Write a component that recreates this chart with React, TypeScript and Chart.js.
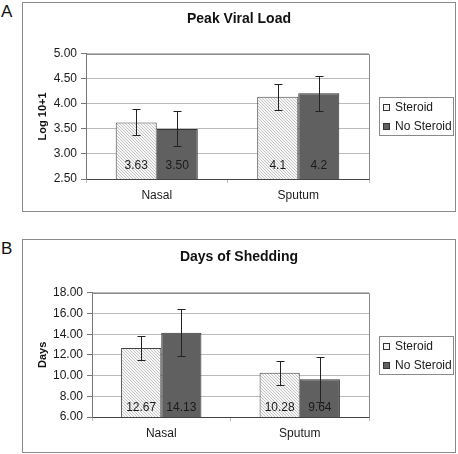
import React, { useEffect, useRef } from "react";
import { Chart, registerables } from "chart.js";

Chart.register(...registerables);

const FONT = "'Liberation Sans', Arial, Helvetica, sans-serif";

const categories = ["Nasal", "Sputum"];
const seriesNames = ["Steroid", "No Steroid"];

// Panel A: Peak Viral Load
const viralSteroid = [3.63, 4.14];
const viralNoSteroid = [3.5, 4.21];
const viralSteroidErr = [0.26, 0.255];
const viralNoSteroidErr = [0.35, 0.355];
const viralSteroidLabels = ["3.63", "4.1"];
const viralNoSteroidLabels = ["3.50", "4.2"];
const viralAxis = [2.5, 5.0, 0.5]; // min, max, step

// Panel B: Days of Shedding
const shedSteroid = [12.67, 10.28];
const shedNoSteroid = [14.13, 9.64];
const shedSteroidErr = [1.2, 1.17];
const shedNoSteroidErr = [2.27, 2.2];
const shedSteroidLabels = ["12.67", "10.28"];
const shedNoSteroidLabels = ["14.13", "9.64"];
const shedAxis = [6, 18, 2];

function makeHatch(): CanvasPattern | string {
  const n = 3;
  const c = document.createElement("canvas");
  c.width = n;
  c.height = n;
  const g = c.getContext("2d");
  if (!g) return "#eeeeee";
  const img = g.createImageData(n, n);
  for (let y = 0; y < n; y++) {
    for (let x = 0; x < n; x++) {
      const i = (y * n + x) * 4;
      const on = (x - y + 3 * n) % n === 0;
      const v = on ? 196 : 247;
      img.data[i] = v;
      img.data[i + 1] = v;
      img.data[i + 2] = v;
      img.data[i + 3] = 255;
    }
  }
  g.putImageData(img, 0, 0);
  return g.createPattern(c, "repeat") || "#eeeeee";
}

type PanelProps = {
  letter: string;
  top: number;
  height: number;
  title: string;
  yTitle: string;
  axis: number[];
  s1: number[];
  s2: number[];
  e1: number[];
  e2: number[];
  l1: string[];
  l2: string[];
  yWidth: number;
  xHeight: number;
  titlePadTop: number;
  titlePadBottom: number;
  labelOffset: number;
};

function Panel(p: PanelProps) {
  const ref = useRef<HTMLCanvasElement | null>(null);
  useEffect(() => {
    if (!ref.current) return;
    const hatch = makeHatch();
    const errs = [p.e1, p.e2];
    const lbls = [p.l1, p.l2];

    const framePlugin = {
      id: "frame",
      beforeDatasetsDraw(chart: any) {
        const { ctx, chartArea: a } = chart;
        ctx.save();
        ctx.strokeStyle = "#8a8a8a";
        ctx.lineWidth = 1;
        ctx.beginPath();
        ctx.moveTo(Math.round(a.left) + 0.5, Math.round(a.top) + 0.5);
        ctx.lineTo(Math.round(a.right) + 0.5, Math.round(a.top) + 0.5);
        ctx.lineTo(Math.round(a.right) + 0.5, Math.round(a.bottom) + 0.5);
        ctx.stroke();
        ctx.restore();
      },
    };

    const extrasPlugin = {
      id: "extras",
      afterDatasetsDraw(chart: any) {
        const { ctx, chartArea: a } = chart;
        const ys = chart.scales.y;
        ctx.save();
        // data labels
        ctx.fillStyle = "#1a1a1a";
        ctx.font = `12px ${FONT}`;
        ctx.textAlign = "center";
        ctx.textBaseline = "middle";
        chart.data.datasets.forEach((ds: any, di: number) => {
          const meta = chart.getDatasetMeta(di);
          meta.data.forEach((el: any, i: number) => {
            ctx.fillText(lbls[di][i], el.x, a.bottom - p.labelOffset);
          });
        });
        // error bars
        ctx.strokeStyle = "#222";
        ctx.lineWidth = 1;
        chart.data.datasets.forEach((ds: any, di: number) => {
          const meta = chart.getDatasetMeta(di);
          meta.data.forEach((el: any, i: number) => {
            const v = ds.data[i];
            const e = errs[di][i];
            const x = Math.round(el.x) + 0.5;
            const yt = Math.round(ys.getPixelForValue(v + e)) + 0.5;
            const yb = Math.round(ys.getPixelForValue(v - e)) + 0.5;
            ctx.beginPath();
            ctx.moveTo(x, yt);
            ctx.lineTo(x, yb);
            ctx.moveTo(x - 4, yt);
            ctx.lineTo(x + 4, yt);
            ctx.moveTo(x - 4, yb);
            ctx.lineTo(x + 4, yb);
            ctx.stroke();
          });
        });
        ctx.restore();
      },
      afterDraw(chart: any) {
        const { ctx, chartArea: a } = chart;
        const bw = 74;
        const bh = 38;
        const left = Math.round(a.right) + 10;
        const top = Math.round((a.top + a.bottom) / 2 - bh / 2);
        ctx.save();
        ctx.fillStyle = "#ffffff";
        ctx.fillRect(left, top, bw, bh);
        ctx.strokeStyle = "#8a8a8a";
        ctx.lineWidth = 1;
        ctx.strokeRect(left + 0.5, top + 0.5, bw, bh);
        chart.data.datasets.forEach((ds: any, di: number) => {
          const cy = top + 10 + di * 19;
          ctx.fillStyle = di === 0 ? "#f2f2f2" : "#606060";
          ctx.fillRect(left + 4, cy - 3, 7, 7);
          ctx.strokeStyle = "#333";
          ctx.strokeRect(left + 4.5, cy - 2.5, 6, 6);
          ctx.fillStyle = "#1a1a1a";
          ctx.font = `12px ${FONT}`;
          ctx.textAlign = "left";
          ctx.textBaseline = "middle";
          ctx.fillText(ds.label, left + 16, cy + 1);
        });
        ctx.restore();
      },
    };

    const chart = new Chart(ref.current, {
      type: "bar",
      data: {
        labels: categories,
        datasets: [
          {
            label: seriesNames[0],
            data: p.s1,
            backgroundColor: hatch as any,
            borderColor: "#444",
            borderWidth: 1,
            categoryPercentage: 0.58,
            barPercentage: 1.0,
          },
          {
            label: seriesNames[1],
            data: p.s2,
            backgroundColor: "#606060",
            borderColor: "#333",
            borderWidth: 1,
            categoryPercentage: 0.58,
            barPercentage: 1.0,
          },
        ],
      },
      options: {
        responsive: false,
        animation: false,
        devicePixelRatio: 1,
        layout: { padding: 0 },
        plugins: {
          legend: { display: false },
          tooltip: { enabled: false },
          title: {
            display: true,
            text: p.title,
            color: "#111",
            font: { family: FONT, size: 14, weight: "bold" },
            padding: { top: p.titlePadTop, bottom: p.titlePadBottom },
          },
        },
        scales: {
          x: {
            grid: {
              display: true,
              drawOnChartArea: false,
              drawTicks: true,
              tickLength: 4,
              color: "#bbbbbb",
              offset: true,
            },
            border: { display: true, color: "#444", width: 1 },
            ticks: {
              color: "#1a1a1a",
              font: { family: FONT, size: 12 },
              padding: 5,
            },
            afterFit: (s: any) => {
              s.height = p.xHeight;
            },
          },
          y: {
            min: p.axis[0],
            max: p.axis[1],
            grid: {
              color: "#bbbbbb",
              tickColor: "#777",
              tickLength: 5,
              drawTicks: true,
            },
            border: { display: true, color: "#777", width: 1 },
            ticks: {
              stepSize: p.axis[2],
              color: "#1a1a1a",
              font: { family: FONT, size: 12 },
              padding: 4,
              callback: (v: any) => Number(v).toFixed(2),
            },
            title: {
              display: true,
              text: p.yTitle,
              color: "#111",
              font: { family: FONT, size: 11, weight: "bold" },
              padding: { top: 13, bottom: 0 },
            },
            afterFit: (s: any) => {
              s.width = p.yWidth;
            },
          },
          legendSpace: {
            type: "linear",
            position: "right",
            display: true,
            grid: { display: false, drawTicks: false },
            border: { display: false },
            ticks: { display: false },
            afterFit: (s: any) => {
              s.width = 86;
            },
          },
        },
      } as any,
      plugins: [framePlugin, extrasPlugin],
    });
    return () => chart.destroy();
  }, []);

  return (
    <>
      <div
        style={{
          position: "absolute",
          left: 1,
          top: p.top + 1,
          fontFamily: FONT,
          fontSize: 17,
          lineHeight: "17px",
          color: "#111",
        }}
      >
        {p.letter}
      </div>
      <div
        style={{
          position: "absolute",
          left: 22,
          top: p.top,
          width: 434,
          height: p.height,
          boxSizing: "border-box",
          border: "1px solid #8a8a8a",
          background: "#fff",
        }}
      >
        <canvas
          ref={ref}
          width={432}
          height={p.height - 2}
          style={{ display: "block", width: 432, height: p.height - 2 }}
        />
      </div>
    </>
  );
}

export default function App() {
  return (
    <div
      style={{
        position: "fixed",
        left: 0,
        top: 0,
        width: 458,
        height: 454,
        background: "#fff",
        overflow: "hidden",
      }}
    >
      <Panel
        letter="A"
        top={2}
        height={210}
        title="Peak Viral Load"
        yTitle="Log 10+1"
        axis={viralAxis}
        s1={viralSteroid}
        s2={viralNoSteroid}
        e1={viralSteroidErr}
        e2={viralNoSteroidErr}
        l1={viralSteroidLabels}
        l2={viralNoSteroidLabels}
        yWidth={63}
        xHeight={32}
        titlePadTop={8}
        titlePadBottom={26}
        labelOffset={13.5}
      />
      <Panel
        letter="B"
        top={239}
        height={214}
        title="Days of Shedding"
        yTitle="Days"
        axis={shedAxis}
        s1={shedSteroid}
        s2={shedNoSteroid}
        e1={shedSteroidErr}
        e2={shedNoSteroidErr}
        l1={shedSteroidLabels}
        l2={shedNoSteroidLabels}
        yWidth={69}
        xHeight={35}
        titlePadTop={9}
        titlePadBottom={27}
        labelOffset={9}
      />
    </div>
  );
}
